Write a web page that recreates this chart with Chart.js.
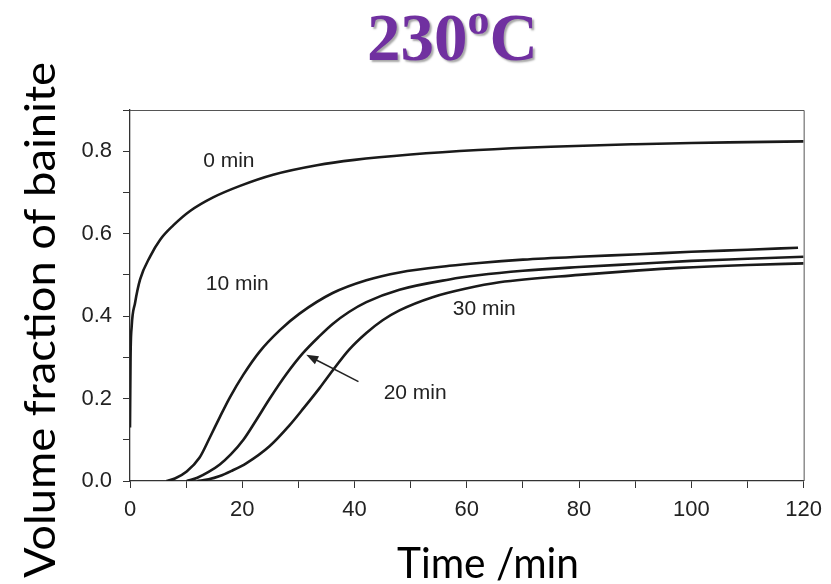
<!DOCTYPE html>
<html>
<head>
<meta charset="utf-8">
<script src="https://cdn.jsdelivr.net/npm/chart.js@4.4.1/dist/chart.umd.min.js"></script>
<style>
  html, body { margin: 0; padding: 0; background: #fff; }
  #chart { display: block; }
</style>
</head>
<body>
<canvas id="chart" width="831" height="584"></canvas>
<script>
// curves: holding time before transformation at 230 C
const minutes0 = [0, 0.1, 0.3, 0.9, 1.8, 3.6, 5.4, 7.7, 10.7, 14.8, 19.6, 25.5, 33.3, 40, 50, 62, 75, 90, 100, 110, 120];
const frac0 = [0.13, 0.3, 0.375, 0.432, 0.489, 0.545, 0.586, 0.62, 0.655, 0.688, 0.716, 0.743, 0.766, 0.779, 0.792, 0.803, 0.811, 0.817, 0.82, 0.822, 0.824];

const minutes10 = [6.5, 8, 10.1, 12.4, 14.2, 16, 17.8, 20.2, 23.1, 26.7, 30.2, 36.1, 42.1, 48, 56.9, 62.2, 70, 80, 90.7, 100, 110, 119];
const frac10 = [0, 0.006, 0.023, 0.057, 0.105, 0.155, 0.203, 0.258, 0.314, 0.366, 0.406, 0.456, 0.487, 0.506, 0.522, 0.529, 0.537, 0.544, 0.55, 0.556, 0.561, 0.566];

const minutes20 = [10.1, 12, 14, 16, 18, 20.2, 22.5, 24.9, 27.9, 30.8, 33.8, 36.1, 39, 42.1, 48, 56.9, 62, 70, 80, 90.7, 100, 110, 120];
const frac20 = [0, 0.008, 0.022, 0.04, 0.065, 0.1, 0.148, 0.2, 0.26, 0.31, 0.352, 0.381, 0.41, 0.434, 0.464, 0.489, 0.499, 0.51, 0.519, 0.527, 0.534, 0.539, 0.544];

const minutes30 = [12, 14, 16, 18, 20.7, 24.9, 28.4, 31, 33.8, 36.1, 39, 42.1, 45, 48, 53.9, 59.9, 65.8, 80, 90.7, 97.8, 110, 120];
const frac30 = [0, 0.004, 0.012, 0.024, 0.043, 0.085, 0.135, 0.178, 0.226, 0.268, 0.318, 0.359, 0.39, 0.414, 0.446, 0.467, 0.482, 0.5, 0.511, 0.517, 0.524, 0.528];

const curveLabels = ['0 min', '10 min', '30 min', '20 min'];
const curveLabelX = [17.6, 19.1, 63.1, 50.8];
const curveLabelY = [0.776, 0.477, 0.416, 0.213];

// arrow from the "20 min" label to its curve
const arrowFrom = { x: 40.7, y: 0.241 };
const arrowTo = { x: 31.4, y: 0.306 };

const chartTitle = ['230', 'o', 'C'];
const xTitle = 'Time /min';
const yTitle = 'Volume fraction of bainite';

const lineColor = '#1a1a1a';

function toPoints(xs, ys) {
    return xs.map((x, i) => ({ x: x, y: ys[i] }));
}

function makeSet(label, xs, ys) {
    return {
        label: label,
        data: toPoints(xs, ys),
        borderColor: lineColor,
        borderWidth: 2.6,
        pointRadius: 0,
        fill: false,
        cubicInterpolationMode: 'monotone'
    };
}

// frame, curve labels, arrow, titles
const decorations = {
    id: 'decorations',
    afterDraw(chart) {
        const ctx = chart.ctx;
        const area = chart.chartArea;
        const xs = chart.scales.x;
        const ys = chart.scales.y;

        ctx.save();
        ctx.strokeStyle = '#555';
        ctx.lineWidth = 1;
        ctx.beginPath();
        ctx.moveTo(area.left, area.top + 0.5);
        ctx.lineTo(area.right + 0.5, area.top + 0.5);
        ctx.lineTo(area.right + 0.5, area.bottom);
        ctx.stroke();

        ctx.fillStyle = '#222';
        ctx.font = '21px "Liberation Sans", Arial, sans-serif';
        ctx.textAlign = 'center';
        ctx.textBaseline = 'middle';
        curveLabels.forEach((txt, i) => {
            ctx.fillText(txt, xs.getPixelForValue(curveLabelX[i]), ys.getPixelForValue(curveLabelY[i]));
        });

        const x1 = xs.getPixelForValue(arrowFrom.x), y1 = ys.getPixelForValue(arrowFrom.y);
        const x2 = xs.getPixelForValue(arrowTo.x), y2 = ys.getPixelForValue(arrowTo.y);
        const ang = Math.atan2(y2 - y1, x2 - x1);
        ctx.strokeStyle = '#222';
        ctx.lineWidth = 1.5;
        ctx.beginPath();
        ctx.moveTo(x1, y1);
        ctx.lineTo(x2 - 8 * Math.cos(ang), y2 - 8 * Math.sin(ang));
        ctx.stroke();
        ctx.beginPath();
        ctx.moveTo(x2, y2);
        ctx.lineTo(x2 - 12 * Math.cos(ang) + 4.5 * Math.sin(ang), y2 - 12 * Math.sin(ang) - 4.5 * Math.cos(ang));
        ctx.lineTo(x2 - 12 * Math.cos(ang) - 4.5 * Math.sin(ang), y2 - 12 * Math.sin(ang) + 4.5 * Math.cos(ang));
        ctx.closePath();
        ctx.fill();

        // axis titles
        ctx.fillStyle = '#000';
        ctx.font = '42px Lato, "Open Sans", sans-serif';
        ctx.textAlign = 'center';
        ctx.textBaseline = 'alphabetic';
        ctx.fillText(xTitle, 488, 578, 182);
        ctx.save();
        ctx.font = '43px Lato, "Open Sans", sans-serif';
        ctx.translate(55, 320);
        ctx.rotate(-Math.PI / 2);
        // stretch to the length the original label takes up
        ctx.scale(516 / ctx.measureText(yTitle).width, 1);
        ctx.fillText(yTitle, 0, 0);
        ctx.restore();

        // chart title with superscript o
        ctx.fillStyle = '#7030A0';
        ctx.shadowColor = 'rgba(0,0,0,0.35)';
        ctx.shadowOffsetX = 2;
        ctx.shadowOffsetY = 2;
        ctx.shadowBlur = 2;
        ctx.textAlign = 'left';
        let tx = 367;
        ctx.font = 'bold 67px "Liberation Serif", "Times New Roman", serif';
        ctx.fillText(chartTitle[0], tx, 60);
        tx += ctx.measureText(chartTitle[0]).width;
        ctx.font = 'bold 44px "Liberation Serif", "Times New Roman", serif';
        ctx.fillText(chartTitle[1], tx, 34);
        tx += ctx.measureText(chartTitle[1]).width;
        ctx.font = 'bold 67px "Liberation Serif", "Times New Roman", serif';
        ctx.fillText(chartTitle[2], tx, 60);
        ctx.restore();
    }
};

new Chart(document.getElementById('chart'), {
    type: 'line',
    data: {
        datasets: [
            makeSet('0 min', minutes0, frac0),
            makeSet('10 min', minutes10, frac10),
            makeSet('20 min', minutes20, frac20),
            makeSet('30 min', minutes30, frac30)
        ]
    },
    plugins: [decorations],
    options: {
        responsive: false,
        animation: false,
        devicePixelRatio: 1,
        layout: { padding: { left: 0, right: 26, top: 110, bottom: 0 } },
        plugins: {
            legend: { display: false },
            tooltip: { enabled: false },
            title: { display: false }
        },
        scales: {
            x: {
                type: 'linear',
                min: 0,
                max: 120,
                afterFit: (scale) => { scale.height = 103; },
                border: { display: true, color: '#333', width: 1.3 },
                grid: { drawOnChartArea: false, drawTicks: true, tickLength: 7, color: '#333' },
                ticks: {
                    stepSize: 10,
                    autoSkip: false,
                    maxRotation: 0,
                    padding: 9,
                    color: '#222',
                    font: { family: '"Liberation Sans", Arial, sans-serif', size: 22 },
                    callback: (v) => (Math.round(v) % 20 === 0 ? String(Math.round(v)) : '')
                }
            },
            y: {
                min: 0,
                max: 0.9,
                afterFit: (scale) => { scale.width = 130; },
                border: { display: true, color: '#333', width: 1.3 },
                grid: { drawOnChartArea: false, drawTicks: true, tickLength: 7, color: '#333' },
                ticks: {
                    stepSize: 0.1,
                    autoSkip: false,
                    padding: 11,
                    color: '#222',
                    font: { family: '"Liberation Sans", Arial, sans-serif', size: 22 },
                    callback: (v) => (Math.round(v * 10) % 2 === 0 ? v.toFixed(1) : '')
                }
            }
        }
    }
});
</script>
</body>
</html>
